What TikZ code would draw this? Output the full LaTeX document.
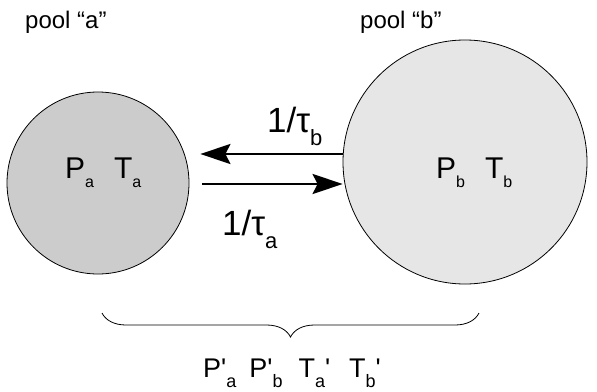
\documentclass[tikz,border=0pt]{standalone}
\usepackage{fontspec}
\setmainfont{Liberation Sans}
\usetikzlibrary{arrows.meta, decorations.pathreplacing}

\definecolor{poolagray}{HTML}{CCCCCC}
\definecolor{poolbgray}{HTML}{E6E6E6}
\newcommand{\lo}[3]{\raisebox{-#1pt}{\fontsize{#2}{#2}\selectfont #3}}
\newcommand{\pr}{\textquotesingle}

\begin{document}
\begin{tikzpicture}[
  x=1pt, y=-1pt,
  pool/.style={circle, draw, line width=0.8pt, inner sep=0pt},
  txt/.style={inner sep=0pt, anchor=base west},
  title/.style={txt, font=\fontsize{24}{24}\selectfont},
  var/.style={txt, font=\fontsize{30}{30}\selectfont},
  rate/.style={txt, font=\fontsize{35}{35}\selectfont},
  arrow/.style={-{Stealth[length=30pt, width=20pt, inset=5pt]}, line width=2.8pt}
]
\useasboundingbox (0,0) rectangle (597,391);

\node[pool, fill=poolagray, minimum size=182pt] (pa) at (98,183) {};
\node[pool, fill=poolbgray, minimum size=244pt] (pb) at (465,162) {};

\node[title] (na) at (25,28) {pool “a”};
\node[title] (nb) at (360,28) {pool “b”};

\node[var] (va) at (65,178) {P\lo{9}{16}{a}\hspace{20pt}T\lo{9}{16}{a}};
\node[var] (vb) at (436,178) {P\lo{9}{16}{b}\hspace{20pt}T\lo{9}{16}{b}};

\draw[arrow] ([yshift=8pt]pb.west) -- ([xshift=11pt, yshift=29pt]pa.east);
\draw[arrow] ([xshift=13pt, yshift=-1pt]pa.east) -- ([yshift=-22pt]pb.west);

\node[rate] (rb) at (267,132) {1/τ\lo{13}{22}{b}};
\node[rate] (ra) at (222,235) {1/τ\lo{13}{22}{a}};

% brace over both pools
\coordinate (bl) at (102,313);
\coordinate (br) at (479,313);
\draw[line width=0.8pt, decorate, decoration={brace, amplitude=24pt, mirror}] (bl) -- (br);

\node[txt, font=\fontsize{27}{27}\selectfont] (sum) at (203,377)
  {P\pr\lo{10}{18}{a}\hspace{13pt}P\pr\lo{10}{18}{b}\hspace{16pt}T\lo{10}{18}{a}\pr\hspace{19pt}T\lo{10}{18}{b}\pr};

\end{tikzpicture}
\end{document}
